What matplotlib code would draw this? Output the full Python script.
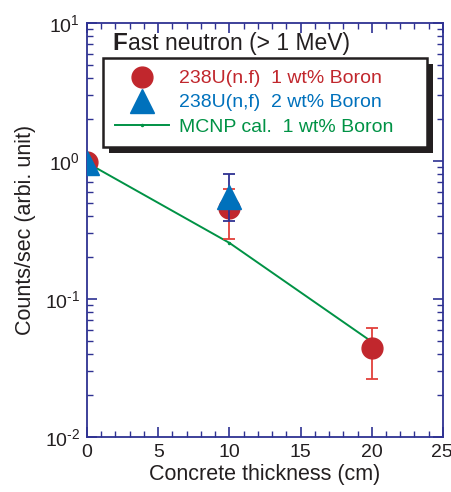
import matplotlib
matplotlib.use("Agg")
import matplotlib.pyplot as plt
from matplotlib.ticker import MultipleLocator, LogLocator, NullFormatter, FuncFormatter
from matplotlib.patches import Rectangle
from matplotlib.lines import Line2D
from matplotlib.transforms import ScaledTranslation
import numpy as np

plt.rcParams['font.family'] = ['Liberation Sans', 'DejaVu Sans']
plt.rcParams['mathtext.fontset'] = 'custom'
plt.rcParams['mathtext.rm'] = 'Liberation Sans'
plt.rcParams['mathtext.default'] = 'regular'
plt.rcParams['axes.unicode_minus'] = False

# Data
x_b1 = [0, 10, 20]
y_b1 = [0.98, 0.455, 0.044]
err_lo_b1 = [0.0, 0.185, 0.0177]
err_hi_b1 = [0.0, 0.17, 0.0176]

x_b2 = [0, 10]
y_b2 = [0.97, 0.55]
err_lo_b2 = [0.0, 0.18]
err_hi_b2 = [0.0, 0.25]

x_mcnp = [0, 10, 20]
y_mcnp = [0.97, 0.255, 0.049]

labels = ['238U(n.f)  1 wt% Boron', '238U(n,f)  2 wt% Boron', 'MCNP cal.  1 wt% Boron']

axis_col = '#2e3192'
txt_col = '#231f20'
red = '#c1272d'
red_err = '#e2403a'
blue = '#0071bc'
green = '#009245'

fig = plt.figure(figsize=(4.52, 4.92), dpi=100)
ax = fig.add_axes([0.1925, 0.1118, 0.7875, 0.8415])

ax.plot(x_mcnp, y_mcnp, color=green, lw=1.4, marker='o', ms=1.5, zorder=2)
ax.errorbar(x_b1, y_b1, yerr=[err_lo_b1, err_hi_b1], fmt='o', ms=15, color=red,
            ecolor=red_err, elinewidth=1.3, capsize=4, capthick=1.3, zorder=3)
ax.errorbar(x_b2, y_b2, yerr=[err_lo_b2, err_hi_b2], fmt='^', ms=17, color=blue,
            ecolor=axis_col, elinewidth=1.3, capsize=4, capthick=1.3, zorder=4)

ax.set_yscale('log')
ax.set_xlim(0, 25)
ax.set_ylim(1e-2, 1e1)
ax.set_xticks([0, 5, 10, 15, 20, 25])
ax.xaxis.set_minor_locator(MultipleLocator(1))
ax.yaxis.set_major_locator(LogLocator(base=10))
ax.yaxis.set_minor_locator(LogLocator(base=10, subs=range(2, 10)))
ax.yaxis.set_minor_formatter(NullFormatter())
ax.yaxis.set_major_formatter(FuncFormatter(
    lambda v, p: '$10^{\\text{%d}}$' % int(round(np.log10(v)))))

for s in ax.spines.values():
    s.set_color(axis_col)
    s.set_linewidth(1.3)
ax.tick_params(which='both', direction='in', top=True, right=True, color=axis_col,
               labelsize=14, labelcolor=txt_col)
ax.tick_params(which='major', length=7, width=1.2, pad=5)
ax.tick_params(which='minor', length=4, width=1.0)

ax.set_xlabel('Concrete thickness (cm)', fontsize=15.5, color=txt_col, labelpad=2)
ax.set_ylabel('Counts/sec (arbi. unit)', fontsize=15.5, color=txt_col, labelpad=6)

# Title text
ax.text(0.072, 0.935, 'F', transform=ax.transAxes, fontsize=17.5, fontweight='bold',
        color=txt_col, va='baseline')
ax.text(0.115, 0.935, 'ast neutron (> 1 MeV)', transform=ax.transAxes, fontsize=16.5,
        color=txt_col, va='baseline')

handles = [
    Line2D([], [], ls='none', marker='o', ms=15, color=red),
    Line2D([], [], ls='none', marker='^', ms=17, color=blue),
    Line2D([], [], color=green, lw=1.4, marker='o', ms=1.5),
]
leg = ax.legend(handles, labels, loc='upper left',
                bbox_to_anchor=(0.045, 0.698, 0.91, 0.217),
                mode='expand', borderaxespad=0, fontsize=14, frameon=True,
                fancybox=False, edgecolor=txt_col, framealpha=1,
                handlelength=2.8, handletextpad=0.5, labelspacing=0.33,
                borderpad=0.6, numpoints=1)
leg.get_frame().set_linewidth(1.8)
leg.set_zorder(10)
for txt, c in zip(leg.get_texts(), [red, blue, green]):
    txt.set_color(c)

fig.canvas.draw()
# keep the last x tick label inside the figure
ticks = ax.xaxis.get_major_ticks()
last = ticks[5].label1
last.set_horizontalalignment('right')
last.set_transform(last.get_transform() + ScaledTranslation(10 / 100, 0, fig.dpi_scale_trans))

bb = leg.get_window_extent().transformed(ax.transAxes.inverted())
sh = Rectangle((bb.x0 + 0.016, bb.y0 - 0.013), bb.width, bb.height, transform=ax.transAxes,
               facecolor=txt_col, edgecolor='none', zorder=9)
ax.add_patch(sh)

fig.savefig('out.png', dpi=100)
